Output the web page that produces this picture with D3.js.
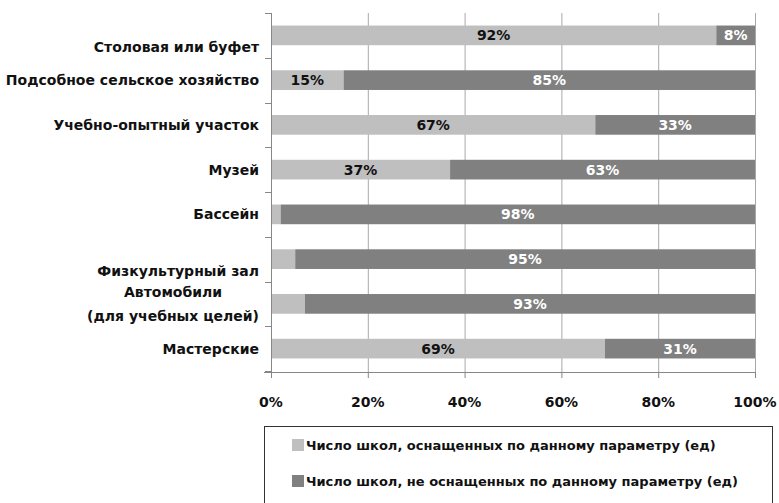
<!DOCTYPE html>
<html>
<head>
<meta charset="utf-8">
<script src="https://cdn.jsdelivr.net/npm/d3@7"></script>
<style>
  html, body { margin: 0; padding: 0; background: #fff; }
  svg { display: block; }
  text { font-family: "DejaVu Sans", sans-serif; font-weight: bold; }
</style>
</head>
<body>
<svg id="chart" width="779" height="503"></svg>
<script>
// ---- data ----
const categories = [
  ["", "Столовая или буфет"],
  ["Подсобное сельское хозяйство"],
  ["Учебно-опытный участок"],
  ["Музей"],
  ["Бассейн"],
  ["", "Физкультурный зал"],
  ["Автомобили", "(для учебных целей)"],
  ["Мастерские"]
];
const equipped    = [92, 15, 67, 37, 2, 5, 7, 69];
const notEquipped = [8, 85, 33, 63, 98, 95, 93, 31];
const tickValues  = [0, 20, 40, 60, 80, 100];
const seriesNames = [
  "Число школ, оснащенных по данному параметру (ед)",
  "Число школ, не оснащенных по данному параметру (ед)"
];
const seriesColors = ["#bfbfbf", "#808080"];
const labelColors  = ["#111111", "#ffffff"];

// ---- layout ----
const svg = d3.select("#chart");
const plot = { left: 271, right: 755, top: 13, bottom: 371 };
const axisColor = "#878787";
const gridColor = "#a8a8a8";

const x = d3.scaleLinear().domain([0, 100]).range([plot.left, plot.right]);
const y = d3.scaleBand()
  .domain(d3.range(categories.length))
  .range([plot.top, plot.bottom])
  .paddingInner(0.56)
  .paddingOuter(0.28);

// gridlines
svg.append("g").selectAll("line")
  .data(tickValues.filter(v => v > 0))
  .join("line")
  .attr("x1", d => x(d) + 0.5).attr("x2", d => x(d) + 0.5)
  .attr("y1", plot.top).attr("y2", plot.bottom + 1)
  .attr("stroke", gridColor).attr("stroke-width", 1);

// stacked bars
const rows = categories.map((c, i) => ({ i, vals: [equipped[i], notEquipped[i]] }));
const stackData = rows.map(r => {
  let acc = 0;
  return r.vals.map((v, s) => { const seg = { i: r.i, s, v, x0: acc, x1: acc + v }; acc += v; return seg; });
}).flat();

svg.append("g").selectAll("rect")
  .data(stackData)
  .join("rect")
  .attr("x", d => x(d.x0))
  .attr("width", d => x(d.x1) - x(d.x0))
  .attr("y", d => y(d.i))
  .attr("height", y.bandwidth())
  .attr("fill", d => seriesColors[d.s]);

// value labels (segments too narrow to hold a label are left unlabelled)
svg.append("g").selectAll("text")
  .data(stackData.filter(d => d.v > 7))
  .join("text")
  .attr("x", d => x((d.x0 + d.x1) / 2))
  .attr("y", d => y(d.i) + y.bandwidth() / 2)
  .attr("dy", "0.36em")
  .attr("text-anchor", "middle")
  .attr("font-size", 14)
  .attr("fill", d => labelColors[d.s])
  .text(d => d.v + "%");

// y axis line + ticks
const yAxisG = svg.append("g");
yAxisG.append("line")
  .attr("x1", plot.left + 0.5).attr("x2", plot.left + 0.5)
  .attr("y1", plot.top).attr("y2", plot.bottom + 1)
  .attr("stroke", axisColor);
const yTickPos = d3.range(categories.length + 1).map(k => plot.top + k * y.step());
yAxisG.selectAll("line.t")
  .data(yTickPos)
  .join("line").attr("class", "t")
  .attr("x1", plot.left - 6).attr("x2", plot.left)
  .attr("y1", d => Math.round(d) + 0.5).attr("y2", d => Math.round(d) + 0.5)
  .attr("stroke", axisColor);

// x axis
const xAxisG = svg.append("g").attr("transform", `translate(0,${plot.bottom + 1})`);
xAxisG.append("line")
  .attr("x1", plot.left - 7).attr("x2", plot.right + 1)
  .attr("y1", 0.5).attr("y2", 0.5)
  .attr("stroke", axisColor);
xAxisG.selectAll("line.t")
  .data(tickValues)
  .join("line").attr("class", "t")
  .attr("x1", d => x(d) + 0.5).attr("x2", d => x(d) + 0.5)
  .attr("y1", 0).attr("y2", 6)
  .attr("stroke", axisColor);
xAxisG.selectAll("text")
  .data(tickValues)
  .join("text")
  .attr("x", d => x(d))
  .attr("y", 30)
  .attr("dy", "0.36em")
  .attr("text-anchor", "middle")
  .attr("font-size", 14)
  .attr("fill", "#111")
  .text(d => d + "%");

// category labels
const labelRight = 259;
const lineH = 24;
const catG = svg.append("g");
categories.forEach((lines, i) => {
  const cy = y(i) + y.bandwidth() / 2;
  const g = catG.append("g");
  const texts = lines.map((ln, k) => g.append("text")
    .attr("y", cy + (k - (lines.length - 1) / 2) * lineH)
    .attr("dy", "0.36em")
    .attr("font-size", 14)
    .attr("fill", "#111")
    .text(ln));
  const maxW = d3.max(texts, t => t.node().getComputedTextLength());
  texts.forEach(t => t.attr("x", labelRight - maxW / 2).attr("text-anchor", "middle"));
});

// legend
const leg = svg.append("g");
leg.append("rect")
  .attr("x", 264.5).attr("y", 426.5)
  .attr("width", 508).attr("height", 100)
  .attr("fill", "none").attr("stroke", "#333");
seriesNames.forEach((name, s) => {
  const cy = 445 + s * 36;
  leg.append("rect")
    .attr("x", 292).attr("y", cy - 6)
    .attr("width", 12).attr("height", 12)
    .attr("fill", seriesColors[s]);
  leg.append("text")
    .attr("x", 306).attr("y", cy)
    .attr("dy", "0.36em")
    .attr("font-size", 13)
    .attr("fill", "#111")
    .text(name);
});
</script>
</body>
</html>
